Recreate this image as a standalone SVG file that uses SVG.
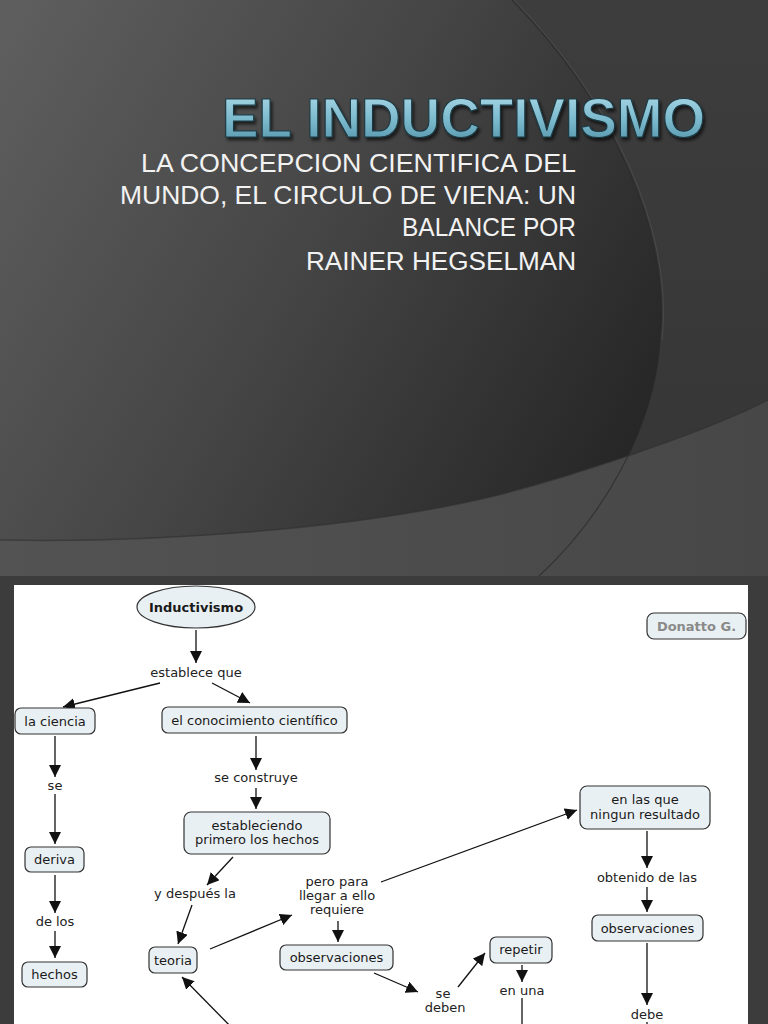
<svg xmlns="http://www.w3.org/2000/svg" width="768" height="1024" viewBox="0 0 768 1024">
<defs>
<linearGradient id="darkG" gradientUnits="userSpaceOnUse" x1="0" y1="40" x2="650" y2="400">
<stop offset="0" stop-color="#5e5e5e"/>
<stop offset="0.5" stop-color="#454545"/>
<stop offset="1" stop-color="#272727"/>
</linearGradient>
<linearGradient id="lowG" gradientUnits="userSpaceOnUse" x1="0" y1="0" x2="768" y2="0">
<stop offset="0" stop-color="#535353"/>
<stop offset="1" stop-color="#474747"/>
</linearGradient>
<linearGradient id="rightG" x1="0" y1="0" x2="0" y2="1">
<stop offset="0" stop-color="#3d3d3d"/>
<stop offset="1" stop-color="#353535"/>
</linearGradient>
<linearGradient id="titleG" x1="0" y1="0" x2="0" y2="1">
<stop offset="0" stop-color="#b3e0ee"/>
<stop offset="0.55" stop-color="#7ab8cc"/>
<stop offset="1" stop-color="#4d8ea3"/>
</linearGradient>
<filter id="sh" x="-5%" y="-20%" width="110%" height="150%">
<feDropShadow dx="2" dy="3" stdDeviation="1.5" flood-color="#000" flood-opacity="0.6"/>
</filter>
<marker id="ah" viewBox="0 0 12 12" refX="12" refY="6" markerWidth="12" markerHeight="12" markerUnits="userSpaceOnUse" orient="auto">
<path d="M0,0 L12,6 L0,12 Z" fill="#111"/>
</marker>
<style>
.sub{font-family:"Liberation Sans","DejaVu Sans",sans-serif;font-size:25px;fill:#f2f2f2;text-anchor:end}
.box{fill:#e9f0f3;stroke:#333;stroke-width:1.2}
.t{font-family:"DejaVu Sans","Verdana",sans-serif;font-size:13px;fill:#1a1a1a;text-anchor:middle}
.lbl{font-family:"DejaVu Sans","Verdana",sans-serif;font-size:13px;fill:#222;text-anchor:middle}
.c{stroke:#111;stroke-width:1.3;fill:none;marker-end:url(#ah)}
.cn{stroke:#111;stroke-width:1.3;fill:none}
</style>
</defs>

<!-- slide background -->
<rect x="0" y="0" width="768" height="576" fill="url(#rightG)"/>
<path d="M0,0 L512,0 C610,100 672,230 660,340 C655,430 600,520 539,576 L0,576 Z" fill="url(#darkG)"/>
<path d="M0,540 C150,543 350,530 490,497 C560,480 700,435 768,400 L768,576 L0,576 Z" fill="url(#lowG)"/>
<path d="M512,0 C610,100 672,230 660,340 C655,430 600,520 539,576" fill="none" stroke="#2a2a2a" stroke-width="1.2" opacity="0.7"/>
<path d="M514,0 C612,100 674,230 662,340" fill="none" stroke="#ffffff" stroke-width="1" opacity="0.08"/>
<path d="M0,540 C150,543 350,530 490,497 C560,480 700,435 768,400" fill="none" stroke="#2e2e2e" stroke-width="1.5" opacity="0.6"/>

<text x="222" y="137" font-family="'Liberation Sans','DejaVu Sans',sans-serif" font-weight="bold" font-size="56" textLength="483" lengthAdjust="spacingAndGlyphs" fill="url(#titleG)" stroke="#1d3942" stroke-width="1.2" filter="url(#sh)">EL INDUCTIVISMO</text>
<text class="sub" x="576" y="172" textLength="435" lengthAdjust="spacingAndGlyphs">LA CONCEPCION CIENTIFICA DEL</text>
<text class="sub" x="576" y="204" textLength="456" lengthAdjust="spacingAndGlyphs">MUNDO, EL CIRCULO DE VIENA: UN</text>
<text class="sub" x="576" y="236" textLength="174" lengthAdjust="spacingAndGlyphs">BALANCE POR</text>
<text class="sub" x="576" y="270" textLength="270" lengthAdjust="spacingAndGlyphs">RAINER HEGSELMAN</text>

<!-- frame and map canvas -->
<rect x="0" y="576" width="768" height="448" fill="#3c3c3c"/>
<rect x="14" y="585" width="734" height="439" fill="#ffffff"/>

<g id="connectors">
<line class="c" x1="196" y1="630" x2="196" y2="663"/>
<line class="c" x1="160" y1="683" x2="63" y2="707"/>
<line class="c" x1="212" y1="683" x2="250" y2="703"/>
<line class="c" x1="55" y1="736" x2="55" y2="777"/>
<line class="c" x1="256" y1="736" x2="256" y2="770"/>
<line class="c" x1="55" y1="794" x2="55" y2="844"/>
<line class="c" x1="256" y1="788" x2="256" y2="809"/>
<line class="c" x1="55" y1="875" x2="55" y2="913"/>
<line class="c" x1="233" y1="857" x2="207" y2="885"/>
<line class="c" x1="55" y1="931" x2="55" y2="958"/>
<line class="c" x1="192" y1="905" x2="178" y2="944"/>
<line class="c" x1="210" y1="949" x2="292" y2="915"/>
<line class="c" x1="338" y1="921" x2="338" y2="942"/>
<line class="c" x1="381" y1="882" x2="577" y2="810"/>
<line class="c" x1="647" y1="831" x2="647" y2="868"/>
<line class="c" x1="647" y1="887" x2="647" y2="912"/>
<line class="c" x1="647" y1="943" x2="647" y2="1005"/>
<line class="c" x1="374" y1="973" x2="418" y2="992"/>
<line class="c" x1="458" y1="987" x2="485" y2="953"/>
<line class="c" x1="522" y1="965" x2="522" y2="982"/>
<line class="cn" x1="522" y1="998" x2="522" y2="1030"/>
<line class="c" x1="238" y1="1034" x2="182" y2="977"/>
<line class="cn" x1="647" y1="1022" x2="647" y2="1030"/>
</g>

<g id="n-inductivismo">
<ellipse class="box" cx="196" cy="607" rx="59" ry="21"/>
<text class="t" x="196" y="612" font-weight="bold" font-size="13.5">Inductivismo</text>
</g>
<g id="n-donatto">
<rect class="box" x="647" y="613" width="99" height="26" rx="7"/>
<text class="t" x="696.5" y="631" font-weight="bold" font-size="12.5" fill="#8a8a8a" style="fill:#8a8a8a">Donatto G.</text>
</g>
<g id="l-establece"><text class="lbl" x="196" y="677">establece que</text></g>
<g id="n-ciencia">
<rect class="box" x="15" y="708" width="80" height="26" rx="6"/>
<text class="t" x="55" y="725.5">la ciencia</text>
</g>
<g id="n-conocimiento">
<rect class="box" x="162" y="707" width="185" height="26" rx="6"/>
<text class="t" x="254.5" y="724.5">el conocimiento científico</text>
</g>
<g id="l-se1"><text class="lbl" x="55" y="790">se</text></g>
<g id="l-construye"><text class="lbl" x="256" y="782">se construye</text></g>
<g id="n-estableciendo">
<rect class="box" x="184" y="812" width="146" height="42" rx="7"/>
<text class="t" x="257" y="830">estableciendo</text>
<text class="t" x="257" y="844">primero los hechos</text>
</g>
<g id="n-deriva">
<rect class="box" x="25" y="847" width="59" height="25" rx="6"/>
<text class="t" x="54.5" y="864">deriva</text>
</g>
<g id="l-delos"><text class="lbl" x="55" y="926">de los</text></g>
<g id="n-hechos">
<rect class="box" x="22" y="962" width="65" height="25" rx="6"/>
<text class="t" x="54.5" y="979">hechos</text>
</g>
<g id="l-despues"><text class="lbl" x="195" y="898">y después la</text></g>
<g id="n-teoria">
<rect class="box" x="149" y="947" width="48" height="26" rx="6"/>
<text class="t" x="173" y="964.5">teoria</text>
</g>
<g id="l-pero">
<text class="lbl" x="337" y="886">pero para</text>
<text class="lbl" x="337" y="900">llegar a ello</text>
<text class="lbl" x="337" y="914">requiere</text>
</g>
<g id="n-observaciones1">
<rect class="box" x="280" y="945" width="113" height="25" rx="6"/>
<text class="t" x="336.5" y="962">observaciones</text>
</g>
<g id="n-enlasque">
<rect class="box" x="580" y="786" width="130" height="43" rx="7"/>
<text class="t" x="645" y="804">en las que</text>
<text class="t" x="645" y="819">ningun resultado</text>
</g>
<g id="l-obtenido"><text class="lbl" x="647" y="882">obtenido de las</text></g>
<g id="n-observaciones2">
<rect class="box" x="592" y="915" width="111" height="26" rx="6"/>
<text class="t" x="647.5" y="932.5">observaciones</text>
</g>
<g id="l-sedeben">
<text class="lbl" x="443" y="998">se</text>
<text class="lbl" x="445" y="1012">deben</text>
</g>
<g id="n-repetir">
<rect class="box" x="490" y="937" width="62" height="26" rx="6"/>
<text class="t" x="521" y="954">repetir</text>
</g>
<g id="l-enuna"><text class="lbl" x="522" y="995">en una</text></g>
<g id="l-debe"><text class="lbl" x="647" y="1019">debe</text></g>
</svg>
